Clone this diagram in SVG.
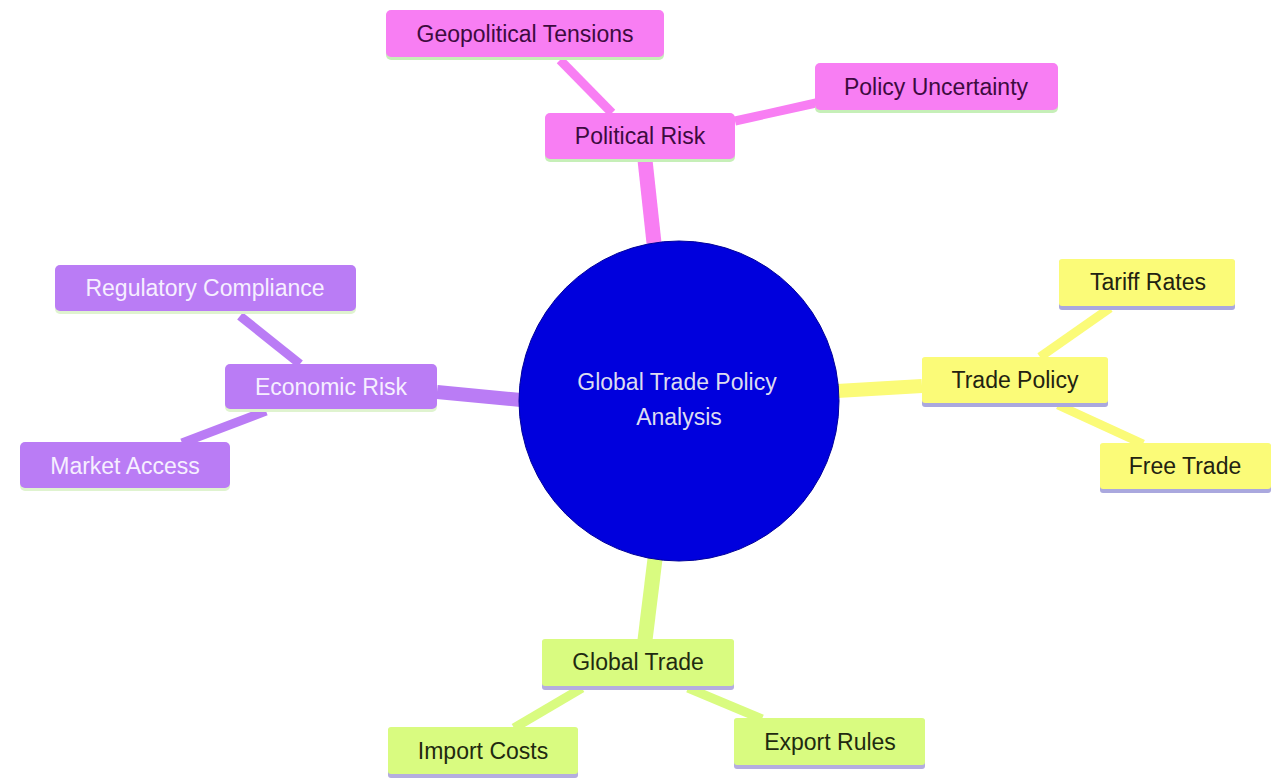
<svg xmlns="http://www.w3.org/2000/svg" width="1274" height="779" viewBox="0 0 1274 779">
<style>
text{font-family:"Liberation Sans",Arial,sans-serif;font-size:23px;text-anchor:middle;dominant-baseline:central}
.pk rect.b{fill:#f87ef3}.pk .u{fill:#c6efb8}.pk text{fill:#3d0b3f}
.pu rect.b{fill:#ba7cf5}.pu .u{fill:#dff3cf}.pu text{fill:#f6efff}
.ye rect.b{fill:#fbfb78}.ye .u{fill:#aaa8de}.ye text{fill:#222211}
.gr rect.b{fill:#d9fb80}.gr .u{fill:#b4addf}.gr text{fill:#1f2a10}
.e{fill:none;stroke-linecap:butt}
</style>
<rect width="1274" height="779" fill="#ffffff"/>
<g id="connectors">
<line class="e" x1="654" y1="243" x2="645" y2="160" stroke="#f87ef3" stroke-width="15"/>
<line class="e" x1="612" y1="113" x2="560" y2="60" stroke="#f87ef3" stroke-width="9"/>
<line class="e" x1="735" y1="121" x2="816" y2="103" stroke="#f87ef3" stroke-width="9"/>
<line class="e" x1="837" y1="391" x2="922" y2="386" stroke="#fbfb78" stroke-width="14"/>
<line class="e" x1="1040" y1="357" x2="1110" y2="308" stroke="#fbfb78" stroke-width="9"/>
<line class="e" x1="1058" y1="405" x2="1143" y2="444" stroke="#fbfb78" stroke-width="9"/>
<line class="e" x1="521" y1="400" x2="437" y2="392" stroke="#ba7cf5" stroke-width="14"/>
<line class="e" x1="300" y1="364" x2="240" y2="316" stroke="#ba7cf5" stroke-width="9"/>
<line class="e" x1="266" y1="411" x2="182" y2="443" stroke="#ba7cf5" stroke-width="9"/>
<line class="e" x1="655" y1="559" x2="645" y2="640" stroke="#d9fb80" stroke-width="15"/>
<line class="e" x1="582" y1="688" x2="514" y2="728" stroke="#d9fb80" stroke-width="9"/>
<line class="e" x1="688" y1="688" x2="762" y2="719" stroke="#d9fb80" stroke-width="9"/>
</g>
<g id="root">
<circle cx="679" cy="401" r="160" fill="#0000dd" stroke="#00009a" stroke-width="1"/>
<text x="677" y="382" fill="#dcdcf0">Global Trade Policy</text>
<text x="679" y="417" fill="#dcdcf0">Analysis</text>
</g>
<g id="political-risk" class="pk"><rect class="u" x="545" y="114" width="190" height="48" rx="5"/><rect class="b" x="545" y="113" width="190" height="46" rx="5"/><text x="640" y="136">Political Risk</text></g>
<g id="geopolitical-tensions" class="pk"><rect class="u" x="386" y="11" width="278" height="49" rx="5"/><rect class="b" x="386" y="10" width="278" height="47" rx="5"/><text x="525" y="34">Geopolitical Tensions</text></g>
<g id="policy-uncertainty" class="pk"><rect class="u" x="815" y="64" width="243" height="49" rx="5"/><rect class="b" x="815" y="63" width="243" height="47" rx="5"/><text x="936" y="87">Policy Uncertainty</text></g>
<g id="trade-policy" class="ye"><rect class="u" x="922" y="358" width="186" height="49" rx="3"/><rect class="b" x="922" y="357" width="186" height="46" rx="3"/><text x="1015" y="380">Trade Policy</text></g>
<g id="tariff-rates" class="ye"><rect class="u" x="1059" y="260" width="176" height="50" rx="3"/><rect class="b" x="1059" y="259" width="176" height="47" rx="3"/><text x="1148" y="282">Tariff Rates</text></g>
<g id="free-trade" class="ye"><rect class="u" x="1100" y="444" width="171" height="49" rx="3"/><rect class="b" x="1100" y="443" width="171" height="46" rx="3"/><text x="1185" y="466">Free Trade</text></g>
<g id="economic-risk" class="pu"><rect class="u" x="225" y="365" width="212" height="47" rx="5"/><rect class="b" x="225" y="364" width="212" height="45" rx="5"/><text x="331" y="387">Economic Risk</text></g>
<g id="regulatory-compliance" class="pu"><rect class="u" x="55" y="266" width="301" height="48" rx="5"/><rect class="b" x="55" y="265" width="301" height="46" rx="5"/><text x="205" y="288">Regulatory Compliance</text></g>
<g id="market-access" class="pu"><rect class="u" x="20" y="443" width="210" height="48" rx="5"/><rect class="b" x="20" y="442" width="210" height="46" rx="5"/><text x="125" y="466">Market Access</text></g>
<g id="global-trade" class="gr"><rect class="u" x="542" y="640" width="192" height="50" rx="3"/><rect class="b" x="542" y="639" width="192" height="47" rx="3"/><text x="638" y="662">Global Trade</text></g>
<g id="import-costs" class="gr"><rect class="u" x="388" y="728" width="190" height="50" rx="3"/><rect class="b" x="388" y="727" width="190" height="47" rx="3"/><text x="483" y="751">Import Costs</text></g>
<g id="export-rules" class="gr"><rect class="u" x="734" y="719" width="191" height="50" rx="3"/><rect class="b" x="734" y="718" width="191" height="47" rx="3"/><text x="830" y="742">Export Rules</text></g>
</svg>
